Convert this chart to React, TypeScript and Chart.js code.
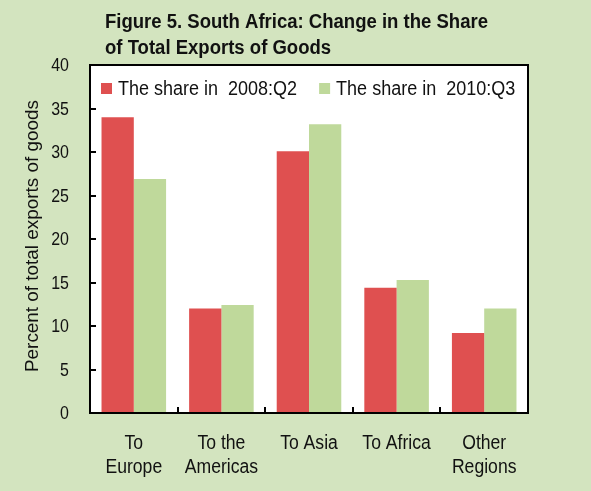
import React, { useEffect, useRef } from "react";
import { Chart, registerables } from "chart.js";

Chart.register(...registerables);

const TITLE_LINES = ["Figure 5. South Africa: Change in the Share", "of Total Exports of Goods"];
const CATEGORIES = [["To", "Europe"], ["To the", "Americas"], ["To Asia"], ["To Africa"], ["Other", "Regions"]];
const SERIES_LABELS = ["The share in  2008:Q2", "The share in  2010:Q3"];
const SHARE_2008Q2 = [34.0, 12.0, 30.1, 14.4, 9.2];
const SHARE_2010Q3 = [26.9, 12.4, 33.2, 15.3, 12.0];
const Y_TITLE = "Percent of total exports of goods";
const Y_MIN = 0;
const Y_MAX = 40;
const Y_STEP = 5;

const BG = "#d3e4bf";
const RED = "#df5050";
const GREEN = "#bfd99b";
const FONT = "'Liberation Sans', Arial, sans-serif";
const NARROW = 0.84; // horizontal squeeze to mimic a narrow face
const INK = "#111";

function narrowText(ctx: CanvasRenderingContext2D, text: string, x: number, y: number, squeeze = NARROW) {
  const w = ctx.measureText(text).width;
  ctx.fillText(text, x, y, w * squeeze);
}

const decorPlugin = {
  id: "decor",
  beforeDraw(chart: any) {
    const { ctx, chartArea: a, width, height } = chart;
    ctx.save();
    ctx.fillStyle = BG;
    ctx.fillRect(0, 0, width, height);
    ctx.fillStyle = "#ffffff";
    ctx.fillRect(a.left, a.top, a.right - a.left, a.bottom - a.top);
    ctx.restore();
  },
  afterDraw(chart: any) {
    const { ctx, chartArea: a } = chart;
    const xs = chart.scales.x;
    const ys = chart.scales.y;
    ctx.save();
    // frame
    ctx.strokeStyle = "#000";
    ctx.lineWidth = 2;
    ctx.strokeRect(a.left, a.top, a.right - a.left, a.bottom - a.top);
    // y ticks (inward) + labels
    ctx.font = `19px ${FONT}`;
    ctx.fillStyle = INK;
    ctx.textBaseline = "middle";
    ys.ticks.forEach((t: any) => {
      const y = Math.round(ys.getPixelForValue(t.value));
      ctx.beginPath();
      ctx.moveTo(a.left, y);
      ctx.lineTo(a.left + 6, y);
      ctx.stroke();
      const label = String(t.label);
      const w = ctx.measureText(label).width * NARROW;
      ctx.textAlign = "left";
      ctx.fillText(label, a.left - 21 - w, y + 1, w);
    });
    // x ticks at category boundaries (inward)
    for (let i = 1; i < CATEGORIES.length; i++) {
      const x = Math.round((xs.getPixelForValue(i - 1) + xs.getPixelForValue(i)) / 2);
      ctx.beginPath();
      ctx.moveTo(x, a.bottom);
      ctx.lineTo(x, a.bottom - 6);
      ctx.stroke();
    }
    // x category labels
    ctx.font = `20px ${FONT}`;
    ctx.textBaseline = "alphabetic";
    ctx.textAlign = "center";
    (chart.data.labels as string[][]).forEach((lines, i) => {
      const cx = xs.getPixelForValue(i);
      lines.forEach((line, j) => {
        narrowText(ctx, line, cx, a.bottom + 36 + j * 24, 0.88);
      });
    });
    // y axis title
    ctx.save();
    ctx.translate(33, (a.top + a.bottom) / 2 - 3);
    ctx.rotate(-Math.PI / 2);
    ctx.font = `19px ${FONT}`;
    ctx.textAlign = "center";
    ctx.textBaseline = "middle";
    ctx.fillText(Y_TITLE, 0, 0, 272);
    ctx.restore();
    // legend
    ctx.font = `20px ${FONT}`;
    ctx.textAlign = "left";
    ctx.textBaseline = "alphabetic";
    let lx = a.left + 11;
    const boxTop = a.top + 18;
    chart.data.datasets.forEach((ds: any) => {
      ctx.fillStyle = ds.backgroundColor;
      ctx.fillRect(lx, boxTop, 11, 11);
      ctx.fillStyle = INK;
      const w = ctx.measureText(ds.label).width * 0.9;
      ctx.fillText(ds.label, lx + 17, boxTop + 12, w);
      lx += 17 + w + 22;
    });
    // title
    ctx.font = `bold 20px ${FONT}`;
    ctx.fillStyle = INK;
    const t0 = ctx.measureText(TITLE_LINES[0]).width;
    const sq = 383 / t0;
    TITLE_LINES.forEach((line, i) => {
      const w = ctx.measureText(line).width * sq;
      ctx.fillText(line, 105, 28 + i * 26, w);
    });
    ctx.restore();
  },
};

export default function App() {
  const ref = useRef<HTMLCanvasElement | null>(null);
  useEffect(() => {
    if (!ref.current) return;
    const chart = new Chart(ref.current, {
      type: "bar",
      data: {
        labels: CATEGORIES,
        datasets: [
          { label: SERIES_LABELS[0], data: SHARE_2008Q2, backgroundColor: RED },
          { label: SERIES_LABELS[1], data: SHARE_2010Q3, backgroundColor: GREEN },
        ],
      },
      options: {
        responsive: false,
        animation: false,
        devicePixelRatio: 1,
        layout: { padding: { left: 0, right: 63, top: 65, bottom: 0 } },
        datasets: { bar: { categoryPercentage: 0.737, barPercentage: 1.0 } },
        plugins: { legend: { display: false }, tooltip: { enabled: false }, title: { display: false } },
        scales: {
          x: {
            grid: { display: false, drawTicks: false },
            border: { display: false },
            ticks: { display: false },
            afterFit: (s: any) => { s.height = 78; },
          },
          y: {
            min: Y_MIN,
            max: Y_MAX,
            grid: { display: false, drawTicks: false },
            border: { display: false },
            ticks: { stepSize: Y_STEP, display: false },
            afterFit: (s: any) => { s.width = 90; },
          },
        },
      },
      plugins: [decorPlugin],
    });
    return () => chart.destroy();
  }, []);
  return (
    <div style={{ position: "absolute", left: 0, top: 0, width: 591, height: 491 }}>
      <canvas ref={ref} width={591} height={491} style={{ display: "block" }} />
    </div>
  );
}
